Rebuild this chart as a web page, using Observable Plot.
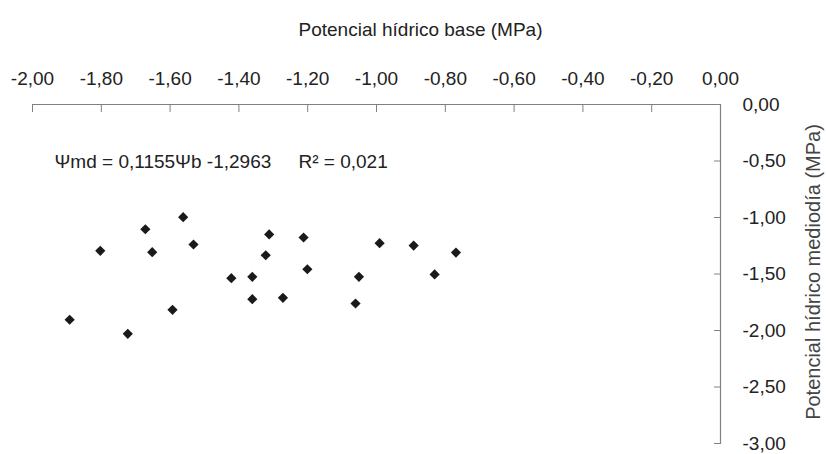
<!DOCTYPE html>
<html>
<head>
<meta charset="utf-8">
<script src="https://cdn.jsdelivr.net/npm/d3@7"></script>
<script src="https://cdn.jsdelivr.net/npm/@observablehq/plot@0.6"></script>
<style>
  html, body { margin: 0; padding: 0; background: #fff; }
  #chart svg { display: block; }
</style>
</head>
<body>
<div id="chart"></div>
<script>
// Potencial hídrico base (MPa) — x
const psiBase = [-1.892, -1.803, -1.723, -1.672, -1.652, -1.593, -1.562, -1.532,
  -1.422, -1.361, -1.361, -1.322, -1.312, -1.272, -1.212, -1.201,
  -1.051, -1.061, -0.991, -0.892, -0.831, -0.769];
// Potencial hídrico mediodía (MPa) — y
const psiMidday = [-1.905, -1.295, -2.029, -1.104, -1.307, -1.817, -0.997, -1.239,
  -1.537, -1.525, -1.723, -1.334, -1.150, -1.711, -1.177, -1.458,
  -1.525, -1.761, -1.227, -1.248, -1.504, -1.310];

const xTicks = [-2.0, -1.8, -1.6, -1.4, -1.2, -1.0, -0.8, -0.6, -0.4, -0.2, 0.0];
const yTicks = [0.0, -0.5, -1.0, -1.5, -2.0, -2.5, -3.0];
const xTitle = "Potencial hídrico base (MPa)";
const yTitle = "Potencial hídrico mediodía (MPa)";
const equation = ["Ψmd = 0,1155Ψb -1,2963", "R² = 0,021"];

const fmt = v => (Math.abs(v) < 1e-9 ? 0 : v).toFixed(2).replace(".", ",");
const data = psiBase.map((x, i) => ({x, y: psiMidday[i]}));

const font = "'Liberation Sans', Arial, sans-serif";
const ink = "#222";
const axisGray = "#808080";

const chart = Plot.plot({
  width: 826,
  height: 454,
  marginLeft: 32,
  marginRight: 106,
  marginTop: 104,
  marginBottom: 11,
  style: {fontFamily: font, fontSize: "19px", color: ink, background: "#fff", overflow: "visible"},
  x: {domain: [-2, 0], axis: null},
  y: {domain: [-3, 0], axis: null},
  marks: [
    Plot.ruleY([0], {stroke: axisGray, strokeWidth: 1.2}),
    Plot.ruleX([0], {stroke: axisGray, strokeWidth: 1.2}),
    Plot.axisX({anchor: "top", ticks: xTicks, tickSize: -7, tickPadding: 27, tickFormat: fmt,
      stroke: axisGray, fill: ink, fontSize: 19, label: null}),
    Plot.axisY({anchor: "right", ticks: yTicks, tickSize: -7, tickPadding: 29, tickFormat: fmt,
      stroke: axisGray, fill: ink, fontSize: 19, label: null}),
    Plot.dot(data, {x: "x", y: "y", symbol: "diamond2", r: 4.6, fill: "#1a1a1a", stroke: "none"}),
    Plot.text([xTitle], {frameAnchor: "top", dy: -82, dx: 44, fill: ink, fontSize: 19}),
    Plot.text([yTitle], {frameAnchor: "right", textAnchor: "middle", lineAnchor: "middle", rotate: -90, dx: 93, dy: -2, fill: "#444", fontSize: 20}),
    Plot.text([equation[0]], {frameAnchor: "top-left", dx: 22, dy: 50, textAnchor: "start", fill: ink, fontSize: 19}),
    Plot.text([equation[1]], {frameAnchor: "top-left", dx: 266, dy: 50, textAnchor: "start", fill: ink, fontSize: 19})
  ]
});
document.getElementById("chart").appendChild(chart);
</script>
</body>
</html>
